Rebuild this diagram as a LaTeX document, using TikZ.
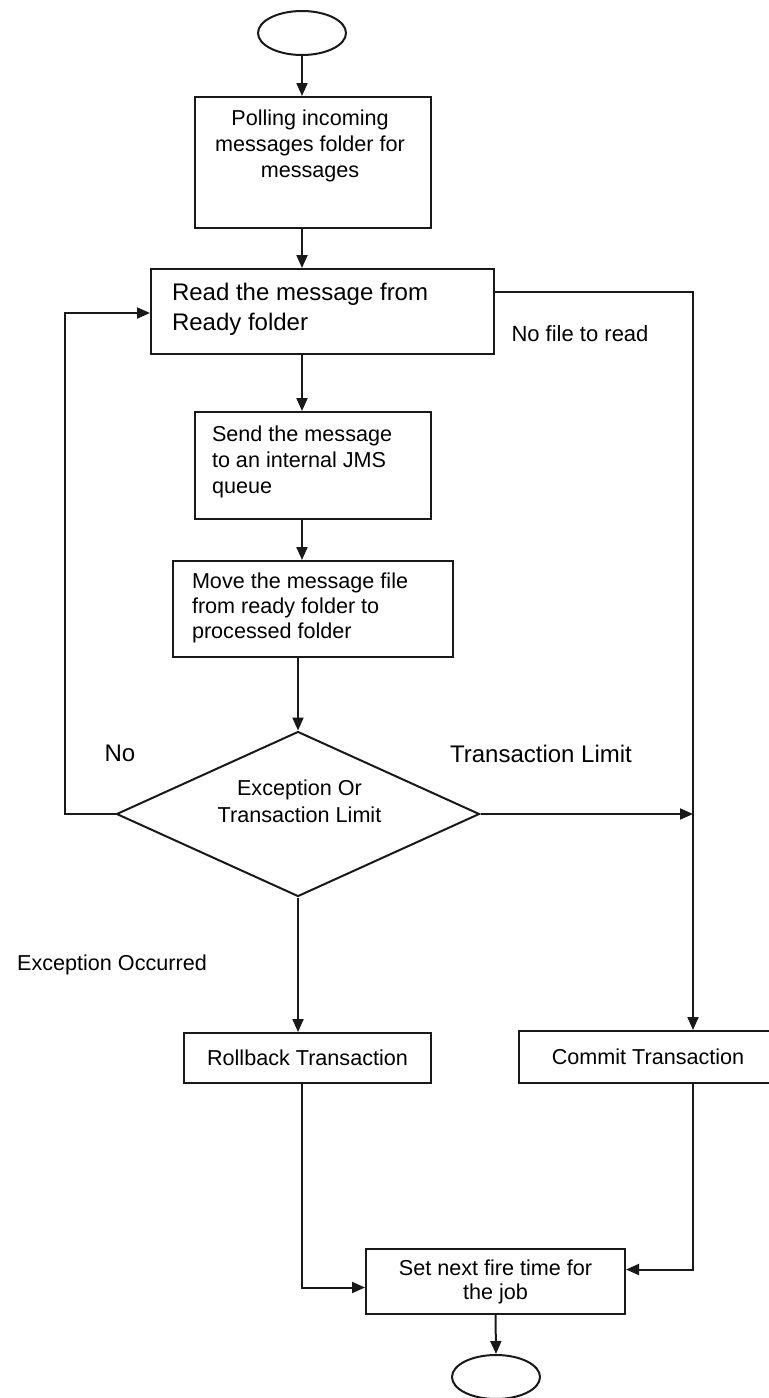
\documentclass[tikz,border=0pt]{standalone}
\usepackage{fontspec}
\setmainfont{Liberation Sans}
\usepackage{tikz}
\usetikzlibrary{shapes.geometric, arrows.meta}
\definecolor{flow_line}{RGB}{25,25,25}

\begin{document}
\begin{tikzpicture}[x=0.5pt, y=-0.5pt, line width=1pt,
    box/.style={draw=flow_line, rectangle, inner sep=0pt, font=\fontsize{10.8}{12}\selectfont},
    terminal/.style={draw=flow_line, ellipse, inner sep=0pt, minimum width=44pt, minimum height=22pt},
    decision/.style={draw=flow_line, diamond, inner sep=0pt},
    txt/.style={inner sep=0pt, font=\fontsize{10.8}{13}\selectfont},
    bigtxt/.style={inner sep=0pt, font=\fontsize{12}{15}\selectfont},
    arr/.style={draw=flow_line, -{Triangle[length=6.5pt, width=5.5pt]}}]
    \useasboundingbox (0,0) rectangle (769,1398);
    \clip (0,0) rectangle (769,1398);

    % Terminals
    \node[terminal] (start) at (302,33) {};
    \node[terminal] (stop) at (496,1377) {};

    % Steps
    \node[box, minimum width=118pt, minimum height=65.5pt] (poll) at (313,162.5) {};
    \node[box, minimum width=171.5pt, minimum height=42.5pt] (read) at (322.5,311.5) {};
    \node[box, minimum width=118pt, minimum height=53.5pt] (send) at (313,465.5) {};
    \node[box, minimum width=140pt, minimum height=48pt] (move) at (313,609) {};
    \node[decision, minimum width=181.5pt, minimum height=82.5pt] (check) at (298,814) {};
    \node[box, minimum width=123.5pt, minimum height=25pt] (rollback) at (307.5,1058) {Rollback Transaction};
    \node[box, minimum width=129pt, minimum height=26pt] (commit) at (648,1057) {Commit Transaction};
    \node[box, minimum width=129.5pt, minimum height=32.5pt, align=center] (nextfire) at (495.5,1281.5) {Set next fire time for\\the job};

    % Step texts
    \node[txt, align=center] (pollText) at (310,146) {Polling incoming\\messages folder for\\messages};
    \node[bigtxt, align=left, anchor=west] (readText) at (171,309) {Read the message from\\Ready folder};
    \node[txt, align=left, anchor=west] (sendText) at (211,462) {Send the message\\to an internal JMS\\queue};
    \node[txt, align=left, anchor=west, font=\fontsize{10.8}{12.5}\selectfont] (moveText) at (191,608) {Move the message file\\from ready folder to\\processed folder};
    \node[txt, align=center, font=\fontsize{10.8}{13.5}\selectfont] (checkText) at (299.5,801) {Exception Or\\Transaction Limit};

    % Branch labels
    \node[bigtxt] (noLbl) at (120,753.5) {No};
    \node[bigtxt] (limitLbl) at (541,753.5) {Transaction Limit};
    \node[txt, font=\fontsize{11}{13}\selectfont] (noFileLbl) at (580,334) {No file to read};
    \node[txt] (exceptionLbl) at (112,965) {Exception Occurred};

    % Connectors
    \coordinate (rail) at (693,291);
    \draw[arr] (start.south) -- (start.south |- poll.north);
    \draw[arr] (poll.south -| start.south) -- (read.north -| start.south);
    \draw[arr] (read.south -| start.south) -- (send.north -| start.south);
    \draw[arr] (send.south -| start.south) -- (move.north -| start.south);
    \draw[arr] (move.south -| check.north) -- (check.north);
    \draw[arr] (check.west) -- ++(-51,0) |- ([yshift=-0.75pt]read.west);
    \draw[arr] ([yshift=10pt]read.east) -| (rail |- commit.north);
    \draw[arr] (check.east) -- (check.east -| rail);
    \draw[arr] (check.south) -- (check.south |- rollback.north);
    \draw[arr] ([xshift=-3pt]rollback.south) |- ([yshift=-3pt]nextfire.west);
    \draw[arr] (rail |- commit.south) |- ([yshift=6pt]nextfire.east);
    \draw[arr] (nextfire.south) -- (stop.north);
\end{tikzpicture}
\end{document}
